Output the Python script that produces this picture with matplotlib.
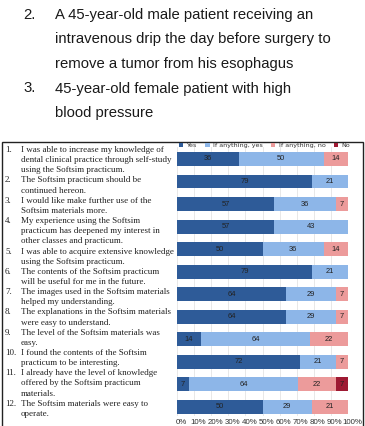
import matplotlib
matplotlib.use("Agg")
import matplotlib.pyplot as plt
import matplotlib.transforms as mtransforms
import numpy as np
from matplotlib.patches import Rectangle

# ---- data ----
items = [
    ["I was able to increase my knowledge of", "dental clinical practice through self-study", "using the Softsim practicum."],
    ["The Softsim practicum should be", "continued hereon."],
    ["I would like make further use of the", "Softsim materials more."],
    ["My experience using the Softsim", "practicum has deepened my interest in", "other classes and practicum."],
    ["I was able to acquire extensive knowledge", "using the Softsim practicum."],
    ["The contents of the Softsim practicum", "will be useful for me in the future."],
    ["The images used in the Softsim materials", "helped my understanding."],
    ["The explanations in the Softsim materials", "were easy to understand."],
    ["The level of the Softsim materials was", "easy."],
    ["I found the contents of the Softsim", "practicum to be interesting."],
    ["I already have the level of knowledge", "offered by the Softsim practicum", "materials."],
    ["The Softsim materials were easy to", "operate."],
]
series_names = ["Yes", "If anything, yes", "If anything, no", "No"]
yes = [36, 79, 57, 57, 50, 79, 64, 64, 14, 72, 7, 50]
any_yes = [50, 21, 36, 43, 36, 21, 29, 29, 64, 21, 64, 29]
any_no = [14, 0, 7, 0, 14, 0, 7, 7, 22, 7, 22, 21]
no = [0, 0, 0, 0, 0, 0, 0, 0, 0, 0, 7, 0]
xticks = [0, 10, 20, 30, 40, 50, 60, 70, 80, 90, 100]

top_lines = [
    ("2.", ["A 45-year-old male patient receiving an",
            "intravenous drip the day before surgery to",
            "remove a tumor from his esophagus"]),
    ("3.", ["45-year-old female patient with high",
            "blood pressure"]),
]

colors = ["#2e5b98", "#8db6e8", "#ec9b9b", "#9e1a33"]

W, H = 365, 426
fig = plt.figure(figsize=(W / 100, H / 100), dpi=100)
fig.patch.set_facecolor("white")

# ---- top text ----
ty = 15
for num, lines in top_lines:
    fig.text(23 / W, 1 - ty / H, num, fontsize=10.7, family="Liberation Sans",
             va="center", ha="left", color="#1a1a1a")
    for ln in lines:
        fig.text(55 / W, 1 - ty / H, ln, fontsize=10.7, family="Liberation Sans",
                 va="center", ha="left", color="#1a1a1a")
        ty += 24.5

# ---- box ----
fig.add_artist(Rectangle((2 / W, -0.05), 361 / W, 1 - 142 / H + 0.05,
                         transform=fig.transFigure, fill=False,
                         edgecolor="#222222", lw=1.0, zorder=0))

# ---- left item text ----
ly = 150
step = 10.15
for i, lines in enumerate(items):
    fig.text(5 / W, 1 - ly / H, f"{i + 1}.", fontsize=6.5, family="Liberation Serif",
             va="center", ha="left", color="#222222")
    for ln in lines:
        fig.text(21 / W, 1 - ly / H, ln, fontsize=6.5, family="Liberation Serif",
                 va="center", ha="left", color="#222222")
        ly += step

# ---- bar chart ----
top_px, bot_px = 147, 416
ax = fig.add_axes([177 / W, 1 - bot_px / H, 171 / W, (bot_px - top_px) / H])
y = np.arange(len(items))
left = np.zeros(len(items))
for vals, c, name in zip([yes, any_yes, any_no, no], colors, series_names):
    vals = np.array(vals, dtype=float)
    bars = ax.barh(y, vals, left=left, height=0.62, color=c, label=name, zorder=2)
    for b, v, l in zip(bars, vals, left):
        if v > 0:
            ax.text(l + v / 2, b.get_y() + b.get_height() / 2, f"{int(v)}",
                    ha="center", va="center", fontsize=5.4,
                    family="Liberation Sans", color="#222222", zorder=3)
    left += vals

ax.set_xlim(0, 100)
ax.set_ylim(11.4, -0.53)
ax.set_xticks(xticks)
ax.set_xticklabels([f"{t}%" for t in xticks], fontsize=5.7, family="Liberation Sans",
                   color="#333333")
ax.tick_params(axis="x", length=0, pad=2)
off = mtransforms.ScaledTranslation(4 / 100, 0, fig.dpi_scale_trans)
for lab in ax.get_xticklabels():
    lab.set_transform(lab.get_transform() + off)
ax.set_yticks([])
for s in ax.spines.values():
    s.set_visible(False)
ax.grid(axis="x", color="#e4e4e4", lw=0.6, zorder=0)
ax.set_axisbelow(True)

ax_h_px = bot_px - top_px
leg = ax.legend(loc="center left", bbox_to_anchor=(0.01, 1 + 1.5 / ax_h_px), ncol=4,
                frameon=False, fontsize=4.6, handlelength=0.7, handleheight=0.7,
                handletextpad=0.5, columnspacing=1.3, borderaxespad=0, borderpad=0)
for t in leg.get_texts():
    t.set_color("#333333")

fig.savefig("out.png", dpi=100, facecolor="white")
